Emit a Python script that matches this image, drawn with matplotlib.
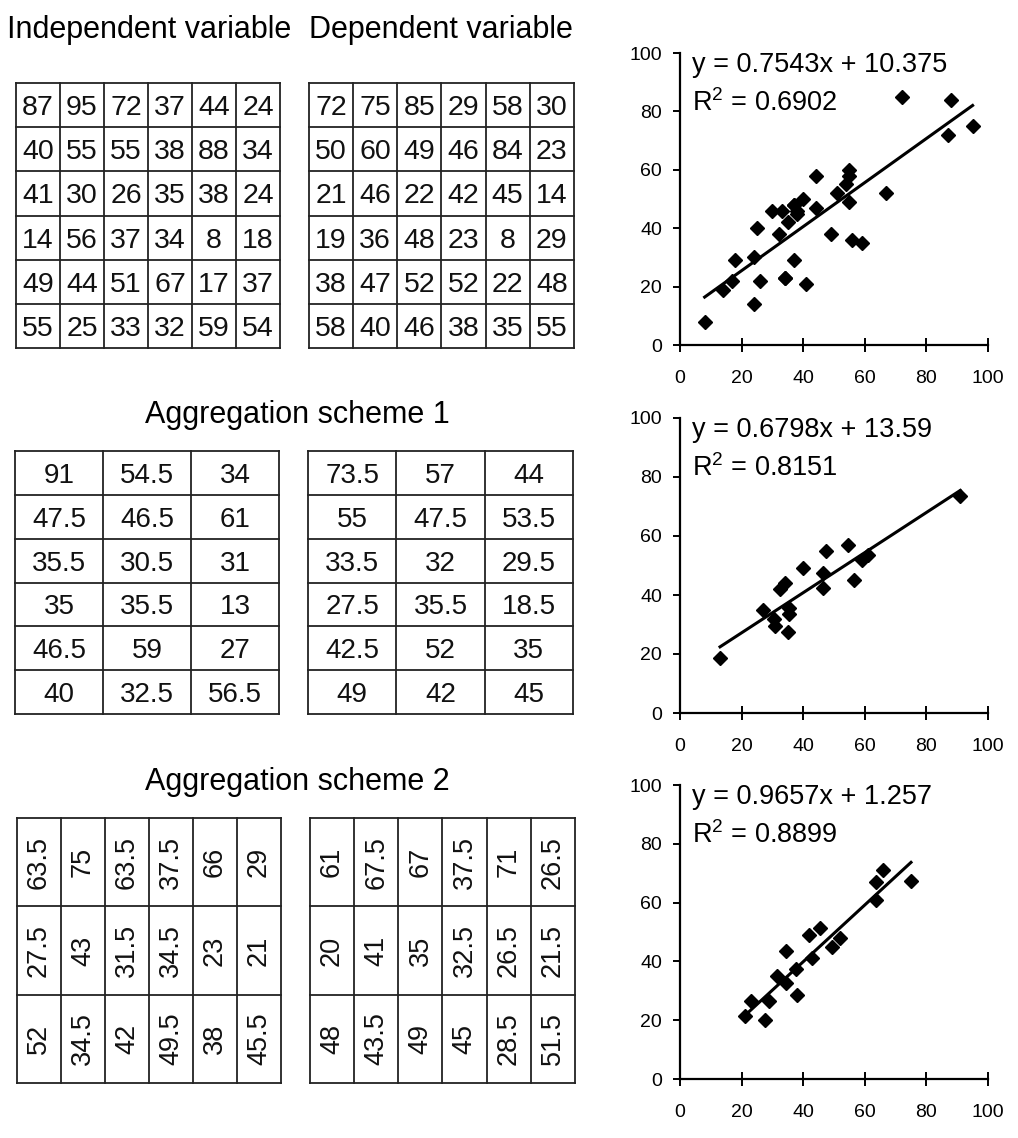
import numpy as np
import matplotlib.pyplot as plt

plt.rcParams['font.family'] = ['Liberation Sans', 'DejaVu Sans']
plt.rcParams['mathtext.fontset'] = 'custom'
plt.rcParams['mathtext.rm'] = 'Liberation Sans'
plt.rcParams['mathtext.it'] = 'Liberation Sans'

# original 6x6 grids
independent = [[87, 95, 72, 37, 44, 24],
               [40, 55, 55, 38, 88, 34],
               [41, 30, 26, 35, 38, 24],
               [14, 56, 37, 34, 8, 18],
               [49, 44, 51, 67, 17, 37],
               [55, 25, 33, 32, 59, 54]]
dependent = [[72, 75, 85, 29, 58, 30],
             [50, 60, 49, 46, 84, 23],
             [21, 46, 22, 42, 45, 14],
             [19, 36, 48, 23, 8, 29],
             [38, 47, 52, 52, 22, 48],
             [58, 40, 46, 38, 35, 55]]

# aggregation scheme 1 (6 rows x 3 cols)
agg1_x = [[91, 54.5, 34],
          [47.5, 46.5, 61],
          [35.5, 30.5, 31],
          [35, 35.5, 13],
          [46.5, 59, 27],
          [40, 32.5, 56.5]]
agg1_y = [[73.5, 57, 44],
          [55, 47.5, 53.5],
          [33.5, 32, 29.5],
          [27.5, 35.5, 18.5],
          [42.5, 52, 35],
          [49, 42, 45]]

# aggregation scheme 2 (3 rows x 6 cols)
agg2_x = [[63.5, 75, 63.5, 37.5, 66, 29],
          [27.5, 43, 31.5, 34.5, 23, 21],
          [52, 34.5, 42, 49.5, 38, 45.5]]
agg2_y = [[61, 67.5, 67, 37.5, 71, 26.5],
          [20, 41, 35, 32.5, 26.5, 21.5],
          [48, 43.5, 49, 45, 28.5, 51.5]]

# fitted trend lines as printed on the charts
slopes = [0.7543, 0.6798, 0.9657]
intercepts = [10.375, 13.59, 1.257]
r_squared = ['0.6902', '0.8151', '0.8899']
eq_texts = ['y = 0.7543x + 10.375', 'y = 0.6798x + 13.59', 'y = 0.9657x + 1.257']

W, H = 1018, 1138
fig = plt.figure(figsize=(W / 100, H / 100), dpi=100)

# overlay in pixel coordinates for headings and grids
tab = fig.add_axes([0, 0, 1, 1])
tab.set_xlim(0, W)
tab.set_ylim(H, 0)
tab.axis('off')


def fmt(v):
    return str(int(v)) if float(v).is_integer() else str(v)


def draw_grid(values, x0, x1, y0, y1, size, rot=0):
    vals = np.array(values)
    nr, nc = vals.shape
    xs = np.linspace(x0, x1, nc + 1)
    ys = np.linspace(y0, y1, nr + 1)
    for x in xs:
        tab.plot([x, x], [y0, y1], color='#222222', lw=1.3, solid_capstyle='projecting')
    for y in ys:
        tab.plot([x0, x1], [y, y], color='#222222', lw=1.3, solid_capstyle='projecting')
    for i in range(nr):
        for j in range(nc):
            cx = (xs[j] + xs[j + 1]) / 2
            cy = (ys[i] + ys[i + 1]) / 2
            tab.text(cx, cy, fmt(vals[i, j]), fontsize=size, rotation=rot,
                     ha='center', va='center_baseline' if rot == 0 else 'center',
                     color='#111111')


tab.text(149, 30, 'Independent variable', fontsize=22, ha='center', va='center')
tab.text(441, 30, 'Dependent variable', fontsize=22, ha='center', va='center')
tab.text(297, 415, 'Aggregation scheme 1', fontsize=22, ha='center', va='center')
tab.text(297, 782, 'Aggregation scheme 2', fontsize=22, ha='center', va='center')

draw_grid(independent, 16, 280, 83, 348, 20.5)
draw_grid(dependent, 309, 574, 83, 348, 20.5)
draw_grid(agg1_x, 15, 279, 451, 714, 20)
draw_grid(agg1_y, 308, 573, 451, 714, 20)
draw_grid(agg2_x, 17, 281, 818, 1083, 19.5, rot=90)
draw_grid(agg2_y, 310, 575, 818, 1083, 19.5, rot=90)

# scatter panels: (x data, y data, pixel y of 0, pixel y of 100)
panels = [(independent, dependent, 345, 53),
          (agg1_x, agg1_y, 713, 418),
          (agg2_x, agg2_y, 1079, 785)]

for k, (xd, yd, py0, py100) in enumerate(panels):
    left = 680 / W
    width = (988 - 680) / W
    bottom = 1 - py0 / H
    height = (py0 - py100) / H
    ax = fig.add_axes([left, bottom, width, height])
    ax.patch.set_alpha(0)
    x = np.array(xd, dtype=float).ravel()
    y = np.array(yd, dtype=float).ravel()
    ax.plot(x, y, 'D', color='black', markersize=7.5, zorder=3)
    xl = np.array([x.min(), x.max()])
    ax.plot(xl, slopes[k] * xl + intercepts[k], color='black', lw=2.2, zorder=2)
    ax.set_xlim(0, 100)
    ax.set_ylim(0, 100)
    ax.set_xticks(np.arange(0, 101, 20))
    ax.set_yticks(np.arange(0, 101, 20))
    for s in ['top', 'right']:
        ax.spines[s].set_visible(False)
    for s in ['left', 'bottom']:
        ax.spines[s].set_linewidth(1.6)
    ax.tick_params(axis='x', direction='inout', length=10, width=1.4,
                   pad=13, labelsize=14)
    ax.tick_params(axis='y', direction='out', length=5, width=1.4,
                   pad=8, labelsize=14)
    ax.text(4, 96, eq_texts[k], fontsize=19.5, ha='left', va='center')
    ax.text(4, 83, 'R$^{2}$ = ' + r_squared[k], fontsize=19.5, ha='left', va='center')

fig.savefig('out.png', dpi=100)
